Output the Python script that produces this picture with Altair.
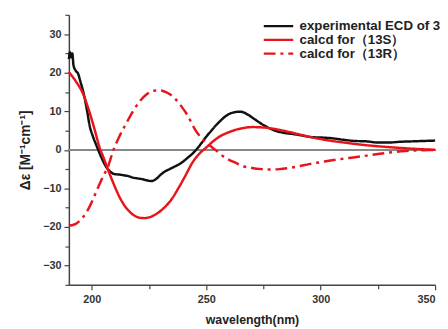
import altair as alt
import pandas as pd

names = ["experimental ECD of 3", "calcd for（13S）", "calcd for（13R）"]

wl_exp = [190, 190.5, 191, 191.5, 192, 193, 194, 195, 196.5, 198, 199, 200.5, 202, 203.5, 205,
          206.5, 208, 210, 212, 214, 216, 218, 220, 222, 224, 226, 228, 230, 232, 234, 236, 238,
          240, 242, 244, 246, 248, 250, 252, 254, 256, 258, 260, 262, 265, 268, 271, 274, 277,
          280, 284, 288, 292, 296, 300, 305, 310, 315, 320, 325, 330, 335, 340, 345, 350]
de_exp = [23.5, 25.3, 24.0, 25.0, 22.0, 20.5, 19.8, 17.8, 14.5, 10.0, 6.5, 3.5, 1.2, -1.0, -3.0,
          -4.6, -5.6, -6.3, -6.4, -6.6, -6.8, -7.2, -7.4, -7.6, -7.9, -8.1, -7.6, -6.5, -5.6, -5.0,
          -4.4, -3.8, -3.0, -2.0, -1.0, 0.3, 1.8, 3.4, 4.8, 6.2, 7.4, 8.5, 9.3, 9.7, 9.9, 9.2, 8.0,
          6.8, 5.8, 5.0, 4.4, 4.1, 3.7, 3.3, 3.2, 3.0, 2.6, 2.3, 2.2, 1.9, 1.9, 2.1, 2.2, 2.3, 2.4]

wl_s = [190, 193, 196, 199, 201, 203.5, 205, 207, 209, 211, 213, 215, 218, 221, 223, 226, 229,
        232, 235, 238, 241, 244, 247, 250, 253, 256, 260, 265, 270, 275, 280, 285, 290, 295,
        300, 305, 310, 320, 330, 340, 350]
de_s = [20.2, 17.8, 14.8, 9.8, 5.8, 0.5, -1.8, -5.0, -8.0, -10.8, -13.2, -15.0, -16.8, -17.6,
        -17.7, -17.3, -16.3, -14.8, -12.7, -9.8, -6.6, -3.3, -1.0, 0.6, 2.2, 3.5, 4.6, 5.5, 5.9,
        5.8, 5.4, 4.8, 4.1, 3.4, 2.8, 2.3, 1.9, 1.2, 0.7, 0.3, 0.0]

wl_r = [190, 193, 196, 199, 202, 205, 207, 209.5, 212, 215, 218, 221, 224, 227, 230, 233, 236,
        239, 242, 245, 248, 251, 254, 257, 260, 263, 266, 270, 274, 278, 282, 286, 290, 295,
        300, 305, 310, 315, 320, 325, 330, 335, 340, 345, 350]
de_r = [-19.7, -19.2, -17.6, -14.8, -10.8, -6.8, -4.5, 0.0, 3.4, 6.8, 10.0, 12.6, 14.4, 15.3,
        15.4, 14.8, 13.5, 11.4, 8.8, 5.4, 3.0, 1.4, 0.0, -1.5, -2.6, -3.4, -4.2, -4.7, -5.0,
        -5.1, -5.0, -4.7, -4.3, -3.7, -3.2, -2.7, -2.3, -1.9, -1.5, -1.1, -0.7, -0.4, -0.2,
        -0.1, 0.0]

x_major = [200, 250, 300, 350]
x_minor = [225, 275, 325]
y_major = [-30, -20, -10, 0, 10, 20, 30]
y_minor = [-35, -25, -15, -5, 5, 15, 25, 35]

frames = []
for i, (w, d) in enumerate([(wl_exp, de_exp), (wl_s, de_s), (wl_r, de_r)]):
    frames.append(pd.DataFrame({"wl": w, "de": d, "series": names[i], "order": i}))
df = pd.concat(frames, ignore_index=True)

XDOM = [190, 350]
YDOM = [-35, 35]
FONT = "Liberation Sans"

axis_common = dict(domainColor="#444", domainWidth=1.5, tickColor="#444", tickWidth=1.2,
                   tickSize=5, grid=False, labelFont=FONT, labelFontWeight="bold",
                   labelFontSize=11, labelColor="#333", titleFont=FONT,
                   titleFontWeight="bold", titleColor="#222")

x_enc = alt.X("wl:Q", scale=alt.Scale(domain=XDOM, nice=False, zero=False),
              axis=alt.Axis(values=x_major, title="wavelength(nm)", orient="bottom",
                            labelPadding=4, titlePadding=9, titleFontSize=12.5,
                            **axis_common))
y_enc = alt.Y("de:Q", scale=alt.Scale(domain=YDOM, nice=False, zero=False),
              axis=alt.Axis(values=y_major, title="Δε [M⁻¹cm⁻¹]", orient="left",
                            labelPadding=3, titlePadding=10, titleFontSize=14,
                            **axis_common))

zero = alt.Chart(df).mark_rule(color="#888", strokeWidth=1.2).encode(
    y=alt.datum(0, scale=alt.Scale(domain=YDOM, nice=False, zero=False)))

leg = dict(title=None, orient="none", legendX=197, legendY=4, symbolType="M-2.5,0H2.5",
           symbolSize=144, symbolStrokeWidth=2.5, symbolOffset=9, labelFont=FONT,
           labelFontWeight="bold", labelFontSize=13.5, labelColor="#222", rowPadding=0,
           labelOffset=14, padding=0)

lines = alt.Chart(df).mark_line(strokeWidth=2.5, interpolate="monotone").encode(
    x=x_enc,
    y=y_enc,
    detail="series:N",
    order="wl:Q",
    color=alt.Color("series:N",
                    scale=alt.Scale(domain=names, range=["#111111", "#e8141c", "#e8141c"]),
                    legend=alt.Legend(**leg)),
    strokeDash=alt.StrokeDash("series:N",
                              scale=alt.Scale(domain=names,
                                              range=[[1, 0], [1, 0], [12, 5, 3, 5]]),
                              legend=alt.Legend(**leg)),
)

minor_axis = dict(domain=False, labels=False, tickColor="#444", tickWidth=1.2, tickSize=4,
                  grid=False, title=None)
minor = alt.Chart(df).mark_point(opacity=0).encode(
    x=alt.X("wl:Q", scale=alt.Scale(domain=XDOM, nice=False, zero=False),
            axis=alt.Axis(values=x_minor, orient="bottom", **minor_axis)),
    y=alt.Y("de:Q", scale=alt.Scale(domain=YDOM, nice=False, zero=False),
            axis=alt.Axis(values=y_minor, orient="left", **minor_axis)),
)

main = alt.layer(zero, lines)
chart = alt.layer(main, minor).resolve_scale(x="independent", y="independent").properties(
    width=373, height=275,
    autosize=alt.AutoSizeParams(type="none"),
    padding={"left": 62, "top": 4, "right": 5, "bottom": 42},
).configure_view(stroke=None)

chart.save("out.html", embed_options={"renderer": "svg", "actions": False})
